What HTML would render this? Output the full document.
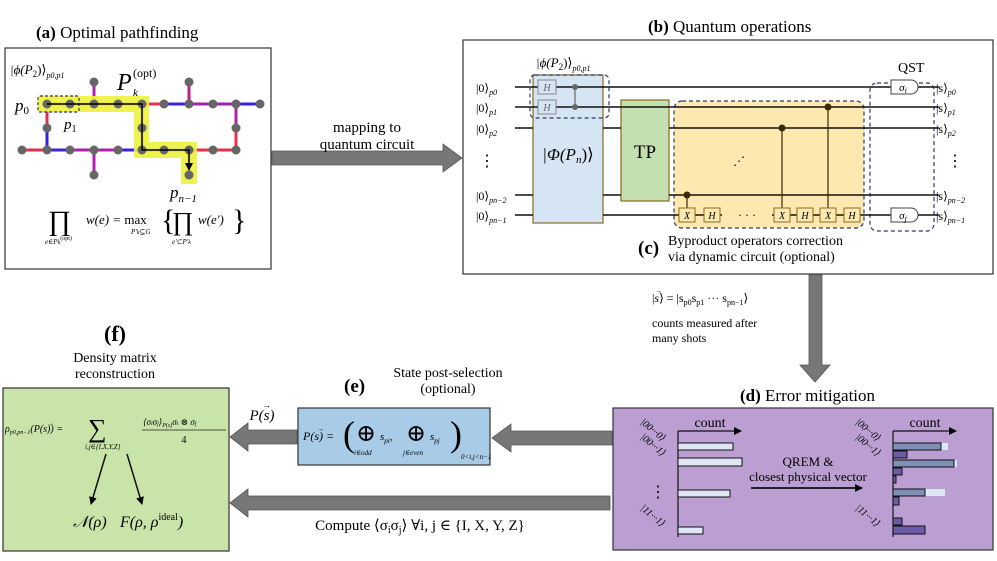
<!DOCTYPE html>
<html><head><meta charset="utf-8"><style>
body{margin:0;background:#fff}
svg{display:block;font-family:"Liberation Serif","DejaVu Serif",serif}
</style></head><body>
<svg width="997" height="561" viewBox="0 0 997 561" xmlns="http://www.w3.org/2000/svg">
<defs>
<marker id="ah" markerWidth="8" markerHeight="8" refX="7" refY="4" orient="auto" markerUnits="userSpaceOnUse"><path d="M0,0 L8,4 L0,8 z" fill="#000"/></marker>
</defs>
<!-- (a) -->
<text x="36" y="38" font-size="17"><tspan font-weight="bold">(a)</tspan> Optimal pathfinding</text>
<rect x="5" y="48" width="266" height="221" fill="#fff" stroke="#333" stroke-width="1.2"/>
<g stroke-width="3">
<line x1="47" y1="104" x2="142" y2="104" stroke="#e03050"/>
<line x1="142" y1="104" x2="164" y2="104" stroke="#e8304a"/>
<line x1="164" y1="104" x2="189" y2="104" stroke="#4020e0"/>
<line x1="189" y1="104" x2="236" y2="104" stroke="#a020b0"/>
<line x1="236" y1="104" x2="260" y2="104" stroke="#3a20e0"/>
<line x1="47" y1="104" x2="47" y2="128" stroke="#e03050"/>
<line x1="47" y1="128" x2="47" y2="150" stroke="#3020e0"/>
<line x1="22" y1="150" x2="47" y2="150" stroke="#e03050"/>
<line x1="47" y1="150" x2="70" y2="150" stroke="#4020e0"/>
<line x1="70" y1="150" x2="118" y2="150" stroke="#b020b0"/>
<line x1="118" y1="150" x2="142" y2="150" stroke="#4020e0"/>
<line x1="142" y1="150" x2="189" y2="150" stroke="#a020b0"/>
<line x1="189" y1="150" x2="236" y2="150" stroke="#e8304a"/>
<line x1="236" y1="104" x2="236" y2="128" stroke="#b020b0"/>
<line x1="236" y1="128" x2="236" y2="150" stroke="#e8304a"/>
<line x1="94" y1="82" x2="94" y2="104" stroke="#b020b0"/>
<line x1="189" y1="82" x2="189" y2="104" stroke="#c02080"/>
<line x1="94" y1="150" x2="94" y2="175" stroke="#b020b0"/>
<line x1="142" y1="104" x2="142" y2="150" stroke="#b020b0"/>
<line x1="189" y1="150" x2="189" y2="175" stroke="#b020b0"/>
</g>
<g fill="#eef23a" opacity="0.9">
<rect x="38" y="96" width="111" height="16" rx="2"/>
<rect x="134" y="96" width="15" height="62"/>
<rect x="134" y="142" width="63" height="16"/>
<rect x="181" y="142" width="16" height="42" rx="2"/>
</g>
<g fill="#666">
<circle cx="47" cy="104" r="4.5"/><circle cx="70" cy="104" r="4.5"/><circle cx="94" cy="104" r="4.5"/><circle cx="118" cy="104" r="4.5"/><circle cx="142" cy="104" r="4.5"/><circle cx="164" cy="104" r="4.5"/><circle cx="189" cy="104" r="4.5"/><circle cx="213" cy="104" r="4.5"/><circle cx="236" cy="104" r="4.5"/><circle cx="260" cy="104" r="4.5"/>
<circle cx="22" cy="150" r="4.5"/><circle cx="47" cy="150" r="4.5"/><circle cx="70" cy="150" r="4.5"/><circle cx="94" cy="150" r="4.5"/><circle cx="118" cy="150" r="4.5"/><circle cx="142" cy="150" r="4.5"/><circle cx="164" cy="150" r="4.5"/><circle cx="189" cy="150" r="4.5"/><circle cx="213" cy="150" r="4.5"/><circle cx="236" cy="150" r="4.5"/>
<circle cx="94" cy="82" r="4.5"/><circle cx="189" cy="82" r="4.5"/><circle cx="94" cy="175" r="4.5"/><circle cx="189" cy="175" r="4.5"/>
<circle cx="47" cy="128" r="4.5"/><circle cx="142" cy="128" r="4.5"/><circle cx="236" cy="128" r="4.5"/>
</g>
<rect x="38" y="96" width="41" height="16" fill="none" stroke="#335" stroke-dasharray="3,2" stroke-width="1.2" rx="2"/>
<path d="M47,104 H142 V150 H189 V170" fill="none" stroke="#000" stroke-width="1.5" marker-end="url(#ah)"/>
<text x="10" y="74" font-size="13" font-style="italic">|ϕ(P<tspan font-size="9" font-style="normal" dy="3">2</tspan><tspan dy="-3" font-style="normal">)⟩</tspan><tspan font-size="8" dy="4">p0,p1</tspan></text>
<text x="117" y="90" font-size="24" font-style="italic">P</text>
<text x="133" y="77" font-size="12">(opt)</text>
<text x="133" y="96" font-size="11" font-style="italic">k</text>
<text x="15" y="111" font-size="17" font-style="italic">p<tspan font-size="11" font-style="normal" dy="3">0</tspan></text>
<text x="64" y="129" font-size="15" font-style="italic">p<tspan font-size="10" font-style="normal" dy="3">1</tspan></text>
<text x="170" y="198" font-size="17" font-style="italic">p<tspan font-size="11" dy="4">n−1</tspan></text>
<text x="48" y="230" font-size="28">∏</text>
<text x="45" y="244" font-size="7" font-style="italic">e∈P<tspan font-size="6">k</tspan><tspan font-size="6" font-style="normal" dy="-4">(opt)</tspan></text>
<text x="86" y="224" font-size="13" font-style="italic">w(e) = <tspan font-style="normal">max</tspan></text>
<text x="131" y="234" font-size="7" font-style="italic">P'<tspan font-size="6">k</tspan>⊆G</text>
<text x="161" y="230" font-size="30" font-weight="100">{</text>
<text x="172" y="230" font-size="26">∏</text>
<text x="172" y="244" font-size="7" font-style="italic">e'⊂P'<tspan font-size="6">k</tspan></text>
<text x="198" y="224" font-size="13" font-style="italic">w(e')</text>
<text x="232" y="230" font-size="30">}</text>

<!-- arrow a->b -->
<polygon points="272,151 443,151 443,144 462,158 443,172 443,165 272,165" fill="#777" stroke="#555" stroke-width="0.8"/>
<text x="367" y="132" font-size="15" text-anchor="middle">mapping to</text>
<text x="367" y="149" font-size="15" text-anchor="middle">quantum circuit</text>

<!-- (b) -->
<text x="648" y="32" font-size="17"><tspan font-weight="bold">(b)</tspan> Quantum operations</text>
<rect x="463" y="40" width="530" height="234" fill="#fff" stroke="#333" stroke-width="1.2"/>
<rect x="533" y="75" width="70" height="148" fill="#d6e5f4" stroke="#8a6a20" stroke-width="1.2"/>
<rect x="621" y="100" width="48" height="101" fill="#c5e0b0" stroke="#8a6a20" stroke-width="1.2"/>
<rect x="674" y="101" width="190" height="127" rx="8" fill="#fde9b0" stroke="#2a3a6a" stroke-dasharray="4,3" stroke-width="1.2"/>
<rect x="870" y="83" width="64" height="148" rx="7" fill="none" stroke="#2a3a6a" stroke-dasharray="4,3" stroke-width="1.2"/>
<g stroke="#111" stroke-width="1.5">
<line x1="515" y1="87" x2="939" y2="87"/>
<line x1="515" y1="107" x2="939" y2="107"/>
<line x1="515" y1="128" x2="533" y2="128"/><line x1="603" y1="128" x2="621" y2="128"/><line x1="669" y1="128" x2="939" y2="128"/>
<line x1="515" y1="195" x2="533" y2="195"/><line x1="603" y1="195" x2="621" y2="195"/><line x1="669" y1="195" x2="939" y2="195"/>
<line x1="515" y1="215" x2="533" y2="215"/><line x1="603" y1="215" x2="939" y2="215"/>
</g>
<g stroke="#666" stroke-width="1.2"><line x1="575" y1="87" x2="575" y2="107"/></g>
<rect x="538" y="80" width="18" height="14" fill="#d6e5f4" stroke="#888"/><text x="547" y="91" font-size="10" font-style="italic" text-anchor="middle" fill="#666">H</text>
<rect x="538" y="100" width="18" height="14" fill="#d6e5f4" stroke="#888"/><text x="547" y="111" font-size="10" font-style="italic" text-anchor="middle" fill="#666">H</text>
<circle cx="575" cy="87" r="3" fill="#666"/><circle cx="575" cy="107" r="3" fill="#666"/>
<rect x="530" y="75" width="79" height="43" rx="5" fill="none" stroke="#2a3a6a" stroke-dasharray="4,3" stroke-width="1.2"/>
<text x="536" y="67" font-size="13" font-style="italic">|ϕ(P<tspan font-size="9" dy="3" font-style="normal">2</tspan><tspan dy="-3" font-style="normal">)⟩</tspan><tspan font-size="8" dy="4">p0,p1</tspan></text>
<text x="568" y="160" font-size="17" text-anchor="middle" font-style="italic">|Φ(P<tspan font-size="11" dy="3">n</tspan><tspan dy="-3" font-style="normal">)⟩</tspan></text>
<text x="645" y="158" font-size="19" text-anchor="middle">TP</text>
<g stroke="#3a2a00" stroke-width="1.2">
<line x1="687" y1="195" x2="687" y2="208"/><line x1="782" y1="128" x2="782" y2="208"/><line x1="828" y1="107" x2="828" y2="208"/>
</g>
<circle cx="687" cy="195" r="3.5" fill="#3a2a00"/><circle cx="782" cy="128" r="3.5" fill="#3a2a00"/><circle cx="828" cy="107" r="3.5" fill="#3a2a00"/>
<g fill="#fde9b0" stroke="#8a6a20" stroke-width="1"><rect x="679" y="208" width="16" height="14"/><rect x="704" y="208" width="16" height="14"/><rect x="774" y="208" width="16" height="14"/><rect x="797" y="208" width="16" height="14"/><rect x="820" y="208" width="16" height="14"/><rect x="844" y="208" width="16" height="14"/></g>
<rect x="722" y="210" width="50" height="10" fill="#fde9b0"/>
<g font-size="10" font-style="italic" text-anchor="middle"><text x="687" y="219">X</text><text x="712" y="219">H</text><text x="782" y="219">X</text><text x="805" y="219">H</text><text x="828" y="219">X</text><text x="852" y="219">H</text></g>
<text x="747" y="219" font-size="12" text-anchor="middle">· · ·</text>
<text x="733" y="165" font-size="12">⋰</text>
<path d="M891,80 h20 a7,7 0 0 1 0,14 h-20 z" fill="#fff" stroke="#444"/><text x="903" y="91" font-size="11" font-style="italic" text-anchor="middle">σ<tspan font-size="8" dy="2">i</tspan></text>
<path d="M891,208 h20 a7,7 0 0 1 0,14 h-20 z" fill="#fff" stroke="#444"/><text x="903" y="219" font-size="11" font-style="italic" text-anchor="middle">σ<tspan font-size="8" dy="2">j</tspan></text>
<text x="898" y="72" font-size="14">QST</text>
<g font-size="12">
<text x="476" y="92">|0⟩<tspan font-size="8" dy="3" font-style="italic">p0</tspan></text>
<text x="476" y="112">|0⟩<tspan font-size="8" dy="3" font-style="italic">p1</tspan></text>
<text x="476" y="133">|0⟩<tspan font-size="8" dy="3" font-style="italic">p2</tspan></text>
<text x="476" y="200">|0⟩<tspan font-size="8" dy="3" font-style="italic">pn−2</tspan></text>
<text x="476" y="220">|0⟩<tspan font-size="8" dy="3" font-style="italic">pn−1</tspan></text>
<text x="936" y="92">|s⟩<tspan font-size="8" dy="3" font-style="italic">p0</tspan></text>
<text x="936" y="112">|s⟩<tspan font-size="8" dy="3" font-style="italic">p1</tspan></text>
<text x="936" y="133">|s⟩<tspan font-size="8" dy="3" font-style="italic">p2</tspan></text>
<text x="936" y="200">|s⟩<tspan font-size="8" dy="3" font-style="italic">pn−2</tspan></text>
<text x="936" y="220">|s⟩<tspan font-size="8" dy="3" font-style="italic">pn−1</tspan></text>
</g>
<text x="479" y="166" font-size="16">⋮</text><text x="947" y="166" font-size="16">⋮</text>
<text x="638" y="254" font-size="19" font-weight="bold">(c)</text>
<text x="668" y="245" font-size="14">Byproduct operators correction</text>
<text x="668" y="261" font-size="14">via dynamic circuit (optional)</text>

<!-- down arrow -->
<polygon points="809,275 822,275 822,365 830,365 815,382 800,365 809,365" fill="#777" stroke="#555" stroke-width="0.8"/>
<text x="652" y="302" font-size="12">|<tspan font-style="italic">s</tspan>⟩ = |s<tspan font-size="8" dy="3">p0</tspan><tspan dy="-3">s</tspan><tspan font-size="8" dy="3">p1</tspan><tspan dy="-3"> ··· s</tspan><tspan font-size="8" dy="3">pn−1</tspan><tspan dy="-3">⟩</tspan></text>
<text x="655" y="293" font-size="7">→</text>
<text x="652" y="327" font-size="12">counts measured after</text>
<text x="652" y="342" font-size="12">many shots</text>

<!-- (d) -->
<text x="740" y="401" font-size="17"><tspan font-weight="bold">(d)</tspan> Error mitigation</text>
<rect x="613" y="408" width="380" height="142" fill="#bb9fd2" stroke="#333" stroke-width="1.2"/>
<line x1="678" y1="431" x2="678" y2="537" stroke="#111" stroke-width="1.2"/>
<line x1="678" y1="431" x2="741" y2="431" stroke="#111" stroke-width="1.2" marker-end="url(#ah)"/>
<text x="710" y="427" font-size="14" text-anchor="middle">count</text>
<g fill="#dfe6f5" stroke="#111" stroke-width="1">
<rect x="678" y="443" width="55" height="7"/><rect x="678" y="458" width="64" height="8"/><rect x="678" y="490" width="52" height="7"/><rect x="678" y="527" width="25" height="7"/>
</g>
<line x1="893" y1="431" x2="893" y2="537" stroke="#111" stroke-width="1.2"/>
<line x1="893" y1="431" x2="956" y2="431" stroke="#111" stroke-width="1.2" marker-end="url(#ah)"/>
<text x="925" y="427" font-size="14" text-anchor="middle">count</text>
<g fill="#dfe6f5"><rect x="893" y="443" width="55" height="7"/><rect x="893" y="460" width="64" height="7"/><rect x="893" y="489" width="52" height="7"/></g>
<g stroke="#111" stroke-width="1">
<rect x="893" y="443" width="48" height="7" fill="#7f8fb5"/><rect x="893" y="451" width="14" height="7" fill="#6a5aa8"/>
<rect x="893" y="460" width="61" height="7" fill="#7f8fb5"/><rect x="893" y="468" width="9" height="7" fill="#6a5aa8"/>
<rect x="893" y="476" width="3" height="7" fill="#6a5aa8"/><rect x="893" y="489" width="32" height="7" fill="#7f8fb5"/>
<rect x="893" y="497" width="6" height="8" fill="#6a5aa8"/><rect x="893" y="518" width="9" height="7" fill="#6a5aa8"/>
<rect x="893" y="526" width="32" height="8" fill="#6a5aa8"/>
</g>
<line x1="751" y1="488" x2="862" y2="488" stroke="#111" stroke-width="1.8" marker-end="url(#ah)"/>
<text x="808" y="466" font-size="13" text-anchor="middle">QREM &amp;</text>
<text x="808" y="481" font-size="13" text-anchor="middle">closest physical vector</text>
<g font-size="10" font-style="italic">
<text transform="translate(640,423) rotate(40)">|00···0⟩</text>
<text transform="translate(640,438) rotate(40)">|00···1⟩</text>
<text transform="translate(640,509) rotate(40)">|11···1⟩</text>
<text transform="translate(855,423) rotate(40)">|00···0⟩</text>
<text transform="translate(855,438) rotate(40)">|00···1⟩</text>
<text transform="translate(855,509) rotate(40)">|11···1⟩</text>
</g>
<text x="650" y="497" font-size="16">⋮</text>

<!-- arrow d->e -->
<polygon points="612,431 511,431 511,424 492,438 511,452 511,445 612,445" fill="#777" stroke="#555" stroke-width="0.8"/>
<!-- (e) -->
<text x="344" y="392" font-size="19" font-weight="bold">(e)</text>
<text x="448" y="377" font-size="14" text-anchor="middle">State post-selection</text>
<text x="448" y="393" font-size="14" text-anchor="middle">(optional)</text>
<rect x="298" y="408" width="192" height="57" fill="#a8cbe8" stroke="#333" stroke-width="1.2"/>
<text x="303" y="440" font-size="12" font-style="italic">P(s) =</text>
<text x="317" y="431" font-size="7">→</text>
<text x="343" y="446" font-size="36" font-weight="100">(</text>
<text x="356" y="441" font-size="24">⊕</text>
<text x="354" y="455" font-size="7" font-style="italic">i∈odd</text>
<text x="380" y="440" font-size="11" font-style="italic">s<tspan font-size="7" dy="3">pi</tspan><tspan dy="-3">,</tspan></text>
<text x="406" y="441" font-size="24">⊕</text>
<text x="403" y="455" font-size="7" font-style="italic">j∈even</text>
<text x="430" y="440" font-size="11" font-style="italic">s<tspan font-size="7" dy="3">pj</tspan></text>
<text x="450" y="446" font-size="36" font-weight="100">)</text>
<text x="461" y="459" font-size="7" font-style="italic">0&lt;i,j&lt;n−1</text>

<!-- arrow e->f -->
<polygon points="297,430 248,430 248,423 230,437 248,451 248,444 297,444" fill="#777" stroke="#555" stroke-width="0.8"/>
<text x="262" y="420" font-size="15" font-style="italic" text-anchor="middle">P(s)</text>
<text x="262" y="408" font-size="9">→</text>
<!-- big lower arrow -->
<polygon points="610,496 248,496 248,489 230,503 248,517 248,510 610,510" fill="#777" stroke="#555" stroke-width="0.8"/>
<text x="420" y="530" font-size="15" text-anchor="middle">Compute ⟨σ<tspan font-size="10" dy="3">i</tspan><tspan dy="-3">σ</tspan><tspan font-size="10" dy="3">j</tspan><tspan dy="-3">⟩ ∀i, j ∈ {I, X, Y, Z}</tspan></text>

<!-- (f) -->
<text x="115" y="341" font-size="22" font-weight="bold" text-anchor="middle">(f)</text>
<text x="115" y="362" font-size="14" text-anchor="middle">Density matrix</text>
<text x="115" y="378" font-size="14" text-anchor="middle">reconstruction</text>
<rect x="3" y="388" width="226" height="163" fill="#c9e4a9" stroke="#333" stroke-width="1.2"/>
<text x="5" y="432" font-size="10" font-style="italic">ρ<tspan font-size="6" dy="2">p0,pn−1</tspan><tspan dy="-2">(P(s)) =</tspan></text>
<text x="48" y="425" font-size="6">→</text>
<text x="88" y="437" font-size="26">∑</text>
<text x="85" y="449" font-size="7" font-style="italic">i,j∈{I,X,Y,Z}</text>
<text x="143" y="425" font-size="9" font-style="italic">⟨σ<tspan font-size="6">i</tspan>σ<tspan font-size="6">j</tspan>⟩<tspan font-size="6" dy="2">P(s)</tspan><tspan dy="-2">σ</tspan><tspan font-size="6">i</tspan> ⊗ σ<tspan font-size="6">j</tspan></text>
<line x1="142" y1="430" x2="226" y2="430" stroke="#222" stroke-width="0.8"/>
<text x="184" y="443" font-size="10" text-anchor="middle">4</text>
<line x1="106" y1="454" x2="91" y2="504" stroke="#111" stroke-width="1.5" marker-end="url(#ah)"/>
<line x1="127" y1="454" x2="142" y2="504" stroke="#111" stroke-width="1.5" marker-end="url(#ah)"/>
<text x="73" y="527" font-size="16" font-style="italic">𝒩(ρ)</text>
<text x="120" y="527" font-size="16" font-style="italic">F(ρ, ρ<tspan font-size="10" font-style="normal" dy="-7">ideal</tspan><tspan dy="7">)</tspan></text>
</svg>
</body></html>
